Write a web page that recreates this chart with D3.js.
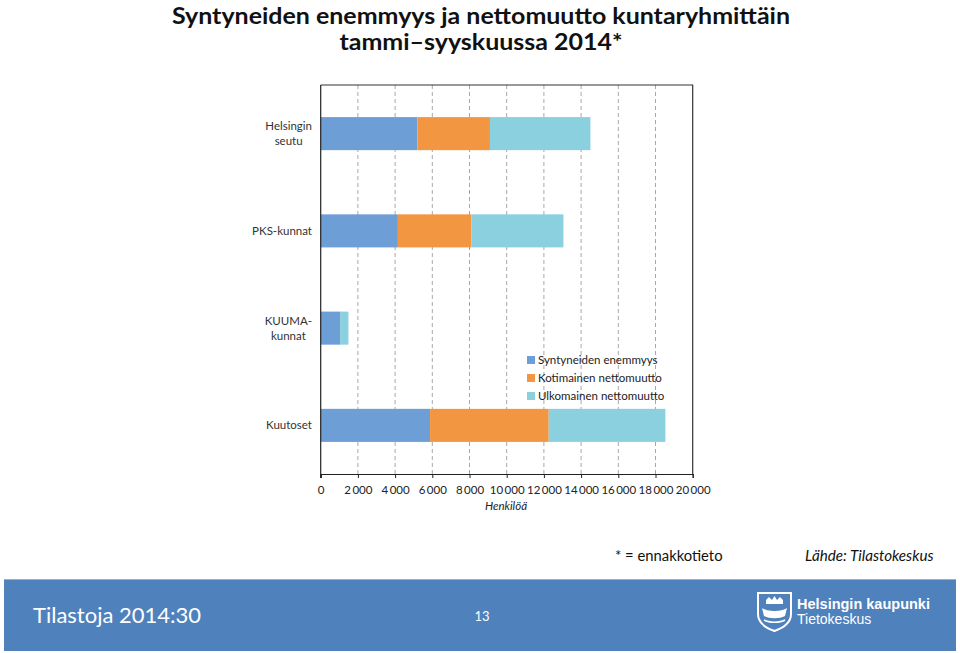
<!DOCTYPE html>
<html><head><meta charset="utf-8">
<script src="https://cdn.jsdelivr.net/npm/d3@7"></script>
<style>
body{margin:0;background:#fff;}
svg{display:block;font-family:Lato,"Open Sans",sans-serif;}
</style></head>
<body>
<script>
const categories = [["Helsingin","seutu"],["PKS-kunnat"],["KUUMA-","kunnat"],["Kuutoset"]];
const seriesNames = ["Syntyneiden enemmyys","Kotimainen nettomuutto","Ulkomainen nettomuutto"];
const syntyneet = [5200, 4150, 1040, 5880];
const kotimainen = [3900, 3950, 0, 6380];
const ulkomainen = [5400, 4950, 450, 6270];
const xTicks = [0,2000,4000,6000,8000,10000,12000,14000,16000,18000,20000];
const colors = ["#6e9ed6","#f39641","#8bd0de"];

const W=960,H=653;
const svg=d3.select("body").append("svg").attr("width",W).attr("height",H);

// Title
const title=svg.append("g").attr("font-weight","bold").attr("font-size",23.5).attr("fill","#111").attr("text-anchor","middle");
const t1=title.append("text").attr("x",481).attr("y",23.5).text("Syntyneiden enemmyys ja nettomuutto kuntaryhmittäin");
const t2=title.append("text").attr("x",481).attr("y",50).text("tammi–syyskuussa 2014*");
const tw=t1.node().getComputedTextLength();
if(tw>0){ t1.attr("textLength",618).attr("lengthAdjust","spacingAndGlyphs"); t2.attr("textLength",t2.node().getComputedTextLength()*618/tw).attr("lengthAdjust","spacingAndGlyphs"); }

const plot={l:320.7,r:692.7,t:85,b:474};
const x=d3.scaleLinear().domain([0,20000]).range([plot.l,plot.r]);
const y=d3.scaleBand().domain(d3.range(categories.length)).range([plot.t,plot.b]).paddingInner(0.66).paddingOuter(0.33);

// grid
svg.append("g").selectAll("line").data(xTicks.slice(1,-1)).join("line")
 .attr("x1",d=>x(d)).attr("x2",d=>x(d)).attr("y1",plot.t).attr("y2",plot.b)
 .attr("stroke","#a8a8a8").attr("stroke-width",1).attr("stroke-dasharray","4,3");

// border top & right
svg.append("path").attr("d",`M${plot.l},${plot.t}H${plot.r}V${plot.b}`).attr("fill","none").attr("stroke","#333").attr("stroke-width",1.2);

// bars
const rows = categories.map((c,i)=>[syntyneet[i],kotimainen[i],ulkomainen[i]]);
const stacked = d3.stack().keys([0,1,2])(rows);
svg.append("g").selectAll("g").data(stacked).join("g").attr("fill",(d,i)=>colors[i])
 .selectAll("rect").data(d=>d.map((v,i)=>({v,i}))).join("rect")
 .attr("x",d=>x(d.v[0])).attr("width",d=>Math.max(0,x(d.v[1])-x(d.v[0])))
 .attr("y",d=>y(d.i)).attr("height",y.bandwidth());

// x axis
const xa=svg.append("g").attr("transform",`translate(0,${plot.b})`)
 .call(d3.axisBottom(x).tickValues(xTicks).tickSize(4).tickPadding(8)
 .tickFormat(d=>d3.format(",")(d).replace(/,/g,"\u2009")));
xa.select(".domain").attr("stroke","#222").attr("stroke-width",1.2);
xa.selectAll(".tick line").attr("stroke","#222");
xa.selectAll("text").attr("font-size",11.5).attr("fill","#222").attr("font-family","Lato,sans-serif");
svg.append("text").attr("x",506).attr("y",510).attr("text-anchor","middle").attr("font-style","italic").attr("font-size",11.5).attr("fill","#222").text("Henkilöä");

// y axis line
svg.append("line").attr("x1",plot.l).attr("x2",plot.l).attr("y1",plot.t).attr("y2",plot.b+4).attr("stroke","#222").attr("stroke-width",1.2);

// category labels
categories.forEach((lines,i)=>{
  const cy=y(i)+y.bandwidth()/2;
  const g=svg.append("g").attr("font-size",11.5).attr("fill","#333");
  const lh=15;
  const ts=lines.map((t,k)=>g.append("text").attr("y",cy+(k-(lines.length-1)/2)*lh+4).text(t));
  const mw=d3.max(ts,t=>t.node().getComputedTextLength());
  ts.forEach(t=>t.attr("x",312-mw/2).attr("text-anchor","middle"));
});

// legend
const lg=svg.append("g");
seriesNames.forEach((n,i)=>{
  const yy=360+i*18;
  lg.append("rect").attr("x",527).attr("y",yy-4).attr("width",8).attr("height",8).attr("fill",colors[i]);
  lg.append("text").attr("x",538).attr("y",yy+4).attr("font-size",11.5).attr("fill","#222").text(n);
});

// notes
svg.append("text").attr("x",615).attr("y",561).attr("font-size",14.8).attr("fill","#111").text("* = ennakkotieto");
svg.append("text").attr("x",805).attr("y",561).attr("font-size",15.2).attr("font-style","italic").attr("fill","#111").text("Lähde: Tilastokeskus");

// footer
svg.append("rect").attr("x",4).attr("y",579).attr("width",952).attr("height",72).attr("fill","#4f81bd");
svg.append("line").attr("x1",4).attr("x2",956).attr("y1",579.5).attr("y2",579.5).attr("stroke","#8fb0d8");
svg.append("text").attr("x",33).attr("y",623).attr("font-size",22).attr("fill","#fff").text("Tilastoja 2014:30");
svg.append("text").attr("x",482).attr("y",621).attr("text-anchor","middle").attr("font-size",13).attr("fill","#fff").text("13");

// logo
const logo=svg.append("g").attr("transform","translate(757,592)");
logo.append("path").attr("d","M1,1H34V22C34,31 26,36 17.5,39C9,36 1,31 1,22Z").attr("fill","none").attr("stroke","#fff").attr("stroke-width",2);
logo.append("path").attr("d","M9,8L12,5L15,8L17.5,4L20,8L23,5L26,8V12H9Z").attr("fill","#fff");
logo.append("path").attr("d","M5,16C10,20 25,20 30,16L28,24C22,27 13,27 7,24Z").attr("fill","#fff");
logo.append("path").attr("d","M7,28C12,31 23,31 28,28").attr("fill","none").attr("stroke","#fff").attr("stroke-width",1.5);
svg.append("text").attr("x",797).attr("y",609).attr("font-family","'Liberation Sans',Arial,sans-serif").attr("font-weight","bold").attr("font-size",14.5).attr("fill","#fff").text("Helsingin kaupunki");
svg.append("text").attr("x",797).attr("y",624).attr("font-family","'Liberation Sans',Arial,sans-serif").attr("font-size",14).attr("fill","#fff").text("Tietokeskus");
</script>
</body></html>
